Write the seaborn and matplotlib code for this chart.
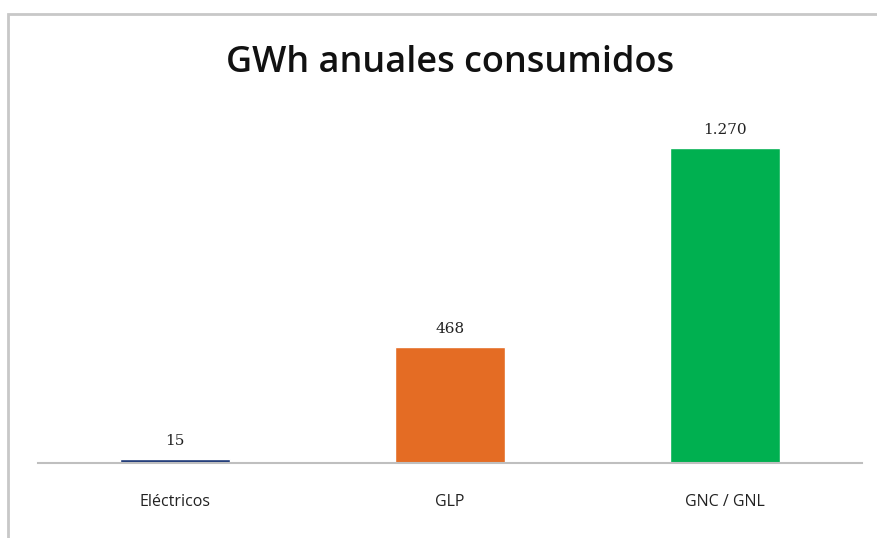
import pandas as pd
import matplotlib.pyplot as plt
import seaborn as sns
from matplotlib.patches import Rectangle

categorias = ['Eléctricos', 'GLP', 'GNC / GNL']
gwh = [15, 468, 1270]
colores = ['#1F3A78', '#E46C24', '#00B050']

df = pd.DataFrame({'tipo': categorias, 'gwh': gwh})

sns.set_style('white')
plt.rcParams['font.family'] = ['Open Sans', 'DejaVu Sans']

fig = plt.figure(figsize=(8.77, 5.38), dpi=100)
ax = fig.add_axes([0.0433, 0.1394, 0.9396, 0.645])

sns.barplot(x='tipo', y='gwh', hue='tipo', data=df, palette=colores,
            width=0.4, legend=False, saturation=1, ax=ax)

# etiquetas de datos con punto de miles
for i, v in enumerate(gwh):
    txt = f'{v:,}'.replace(',', '.')
    ax.text(i, v + 45, txt, ha='center', va='bottom', fontsize=11,
            family='DejaVu Serif', color='#222222')

ax.set_xlim(-0.5, 2.5)
ax.set_ylim(0, 1400)
ax.set_yticks([])
ax.set_xlabel('')
ax.set_ylabel('')
ax.tick_params(axis='x', length=0, pad=22, labelsize=11.5, colors='#222222')
for s in ['top', 'left', 'right']:
    ax.spines[s].set_visible(False)
ax.spines['bottom'].set_color('#BFBFBF')
ax.spines['bottom'].set_linewidth(1.5)

fig.text(0.513, 0.882, 'GWh anuales consumidos', ha='center', va='center',
         fontsize=26, fontweight='semibold', color='#111111')

# marco del gráfico
fig.patches.append(Rectangle((8 / 877, -0.01), 1.0, 1 - 14 / 538 + 0.01,
                             transform=fig.transFigure, fill=False,
                             edgecolor='#C8C8C8', linewidth=2))

fig.savefig('out.png', dpi=100)
